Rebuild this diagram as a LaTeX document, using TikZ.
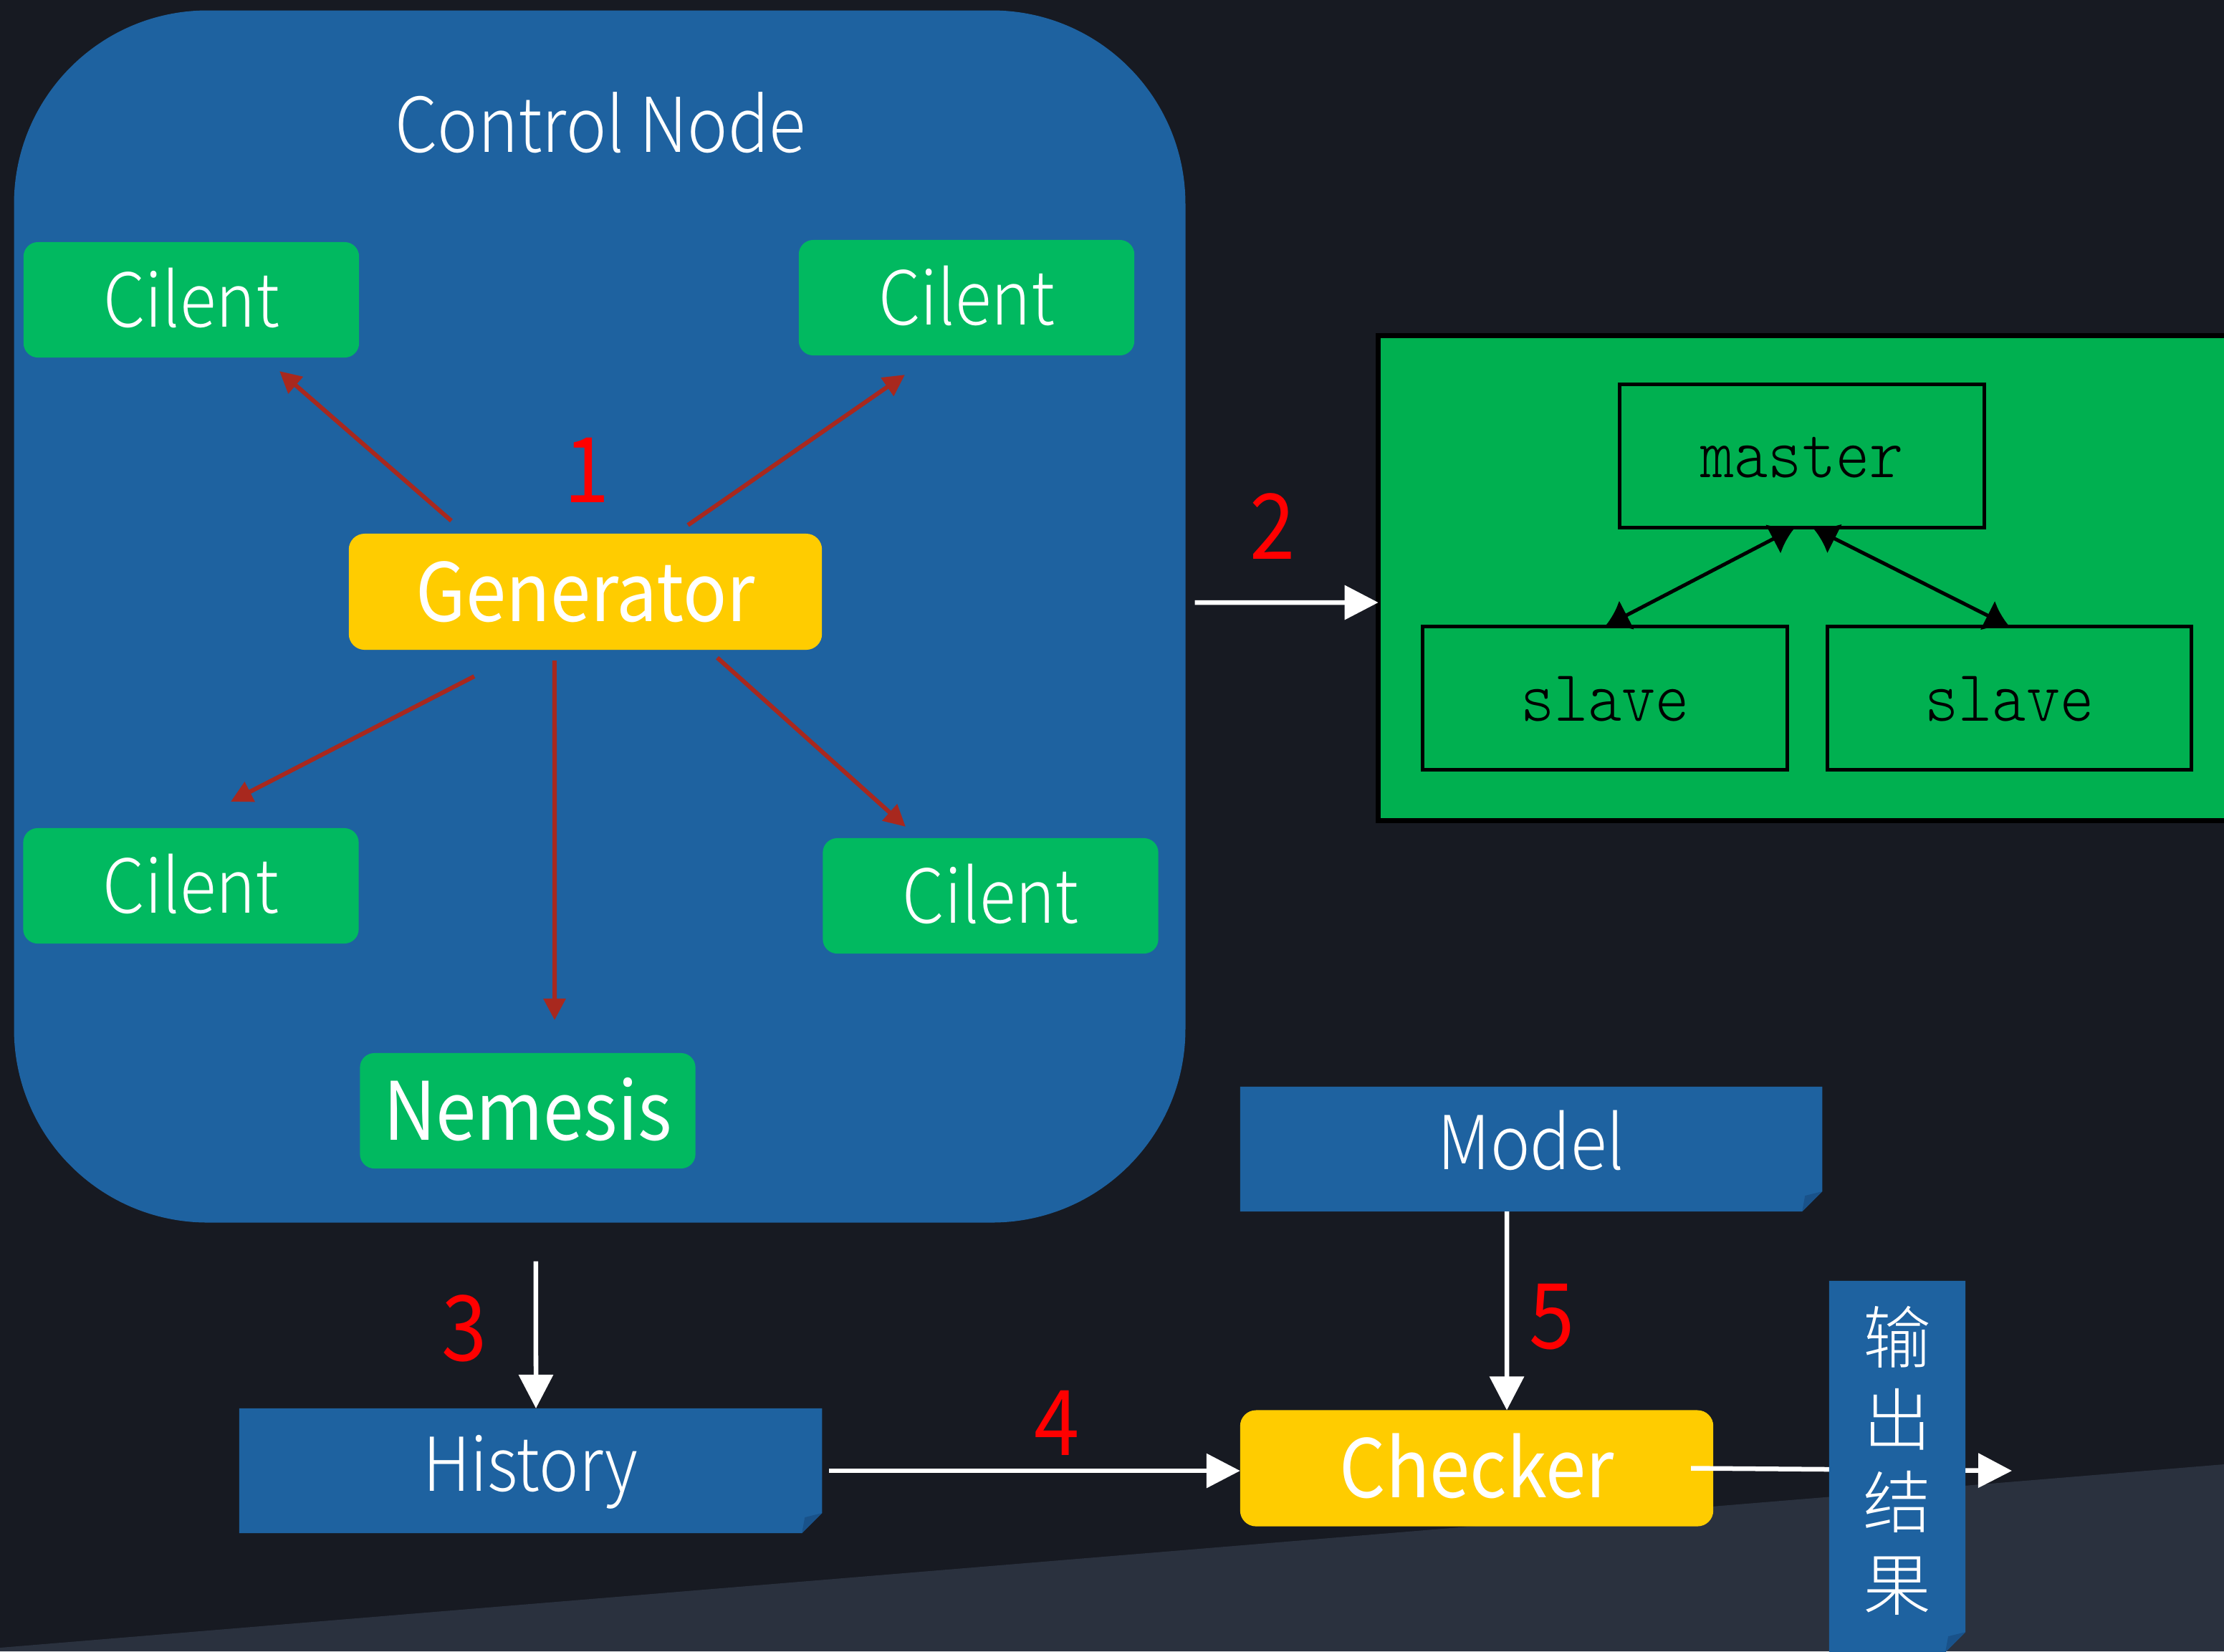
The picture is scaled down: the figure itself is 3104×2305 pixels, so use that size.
\documentclass[tikz,border=0pt]{standalone}
\usepackage{fontspec}
\newfontfamily\sansfam{Noto Sans CJK SC}[UprightFont=* Light,FakeStretch=0.9]
\newfontfamily\sansreg{Noto Sans CJK SC}[FakeStretch=0.9]
\newfontfamily\cjkfam{Noto Sans CJK SC}[UprightFont=* Light]
\newfontfamily\monofam{lmmonolt10-regular.otf}[FakeStretch=0.88]
\usetikzlibrary{arrows.meta}
\definecolor{bgdark}{RGB}{23,26,34}
\definecolor{bglight}{RGB}{42,49,62}
\definecolor{cnblue}{RGB}{30,98,160}
\definecolor{foldblue}{RGB}{25,82,138}
\definecolor{cgreen}{RGB}{1,185,96}
\definecolor{sysgreen}{RGB}{0,176,80}
\definecolor{gold}{RGB}{255,204,0}
\definecolor{redarrow}{RGB}{168,40,30}
\definecolor{numred}{RGB}{255,0,0}
\newcommand\paperfill[1]{%
  \fill[cnblue] (#1.north west) -- (#1.north east) -- ([yshift=0.28cm]#1.south east)
    -- ([xshift=-0.28cm]#1.south east) -- (#1.south west) -- cycle;
  \fill[foldblue] ([yshift=0.28cm]#1.south east) -- ([xshift=-0.28cm]#1.south east)
    -- ([xshift=-0.24cm,yshift=0.22cm]#1.south east) -- cycle;}
\begin{document}
\begin{tikzpicture}[x=0.01cm,y=-0.01cm,
  every node/.style={inner sep=0pt,outer sep=0pt},
  lightfont/.style={font=\sansfam\fontsize{29.5pt}{30pt}\selectfont,text height=21.6pt,text depth=0pt},
  boldfont/.style={font=\sansreg\fontsize{32pt}{32pt}\selectfont,text height=23.5pt,text depth=0pt},
  clientbox/.style={fill=cgreen,rounded corners=0.2cm,minimum width=4.68cm,minimum height=1.61cm,text=white,lightfont},
  genbox/.style={fill=gold,rounded corners=0.22cm,minimum width=6.6cm,minimum height=1.62cm,text=white,boldfont},
  paperbox/.style={minimum width=8.13cm,minimum height=1.74cm},
  papertext/.style={text=white,font=\sansfam\fontsize{29.5pt}{30pt}\selectfont,text height=21.6pt,text depth=0.2cm},
  msbox/.style={draw=black,line width=0.05cm,fill=sysgreen,minimum width=5.08cm,minimum height=2.0cm,text=black,
     font=\monofam\fontsize{29pt}{29pt}\selectfont,text depth=0pt},
  num/.style={text=numred,font=\sansreg\fontsize{36pt}{36pt}\selectfont,text height=26.4pt,text depth=0pt},
  redarr/.style={draw=redarrow,line width=0.06cm,-{Triangle[length=0.3cm,width=0.3cm]}},
  whitearr/.style={draw=white,line width=0.065cm,-{Triangle[length=0.47cm,width=0.47cm]}},
  blackarr/.style={draw=black,line width=0.05cm,{Latex[length=0.34cm,width=0.46cm]}-{Latex[length=0.34cm,width=0.46cm]}}]
\useasboundingbox (0,0) rectangle (3104,2305);
% background
\fill[bgdark] (0,0) rectangle (3104,2305);
\fill[bglight] (0,2300) -- (3104,2044) -- (3104,2305) -- (0,2305) -- cycle;
% control node
\node[fill=cnblue,rounded corners=2.7cm,minimum width=16.34cm,minimum height=16.91cm] (cn) at (837,860.5) {};
\node[text=white,font=\sansfam\fontsize{30pt}{30pt}\selectfont,text height=22pt,text depth=0pt] (cntitle) at (838,174) {Control Node};
\node[clientbox] (cl1) at (267,418.5) {Cilent};
\node[clientbox] (cl2) at (1349,415.5) {Cilent};
\node[clientbox] (cl3) at (266.5,1236.5) {Cilent};
\node[clientbox] (cl4) at (1382.5,1250.5) {Cilent};
\node[genbox] (gen) at (817,826) {Generator};
\node[clientbox,boldfont] (nem) at (736.5,1550.5) {Nemesis};
\draw[redarr] ([xshift=-1.87cm,yshift=0.18cm]gen.north) -- ([xshift=1.23cm,yshift=-0.19cm]cl1.south);
\draw[redarr] ([xshift=1.43cm,yshift=0.12cm]gen.north) -- ([xshift=-0.86cm,yshift=-0.27cm]cl2.south);
\draw[redarr] ([xshift=-1.55cm,yshift=-0.37cm]gen.south) -- ([xshift=0.555cm,yshift=0.37cm]cl3.north);
\draw[redarr] ([xshift=1.84cm,yshift=-0.11cm]gen.south) -- ([xshift=-1.185cm,yshift=0.16cm]cl4.north);
\draw[redarr] ([xshift=-0.43cm,yshift=-0.15cm]gen.south) -- ([xshift=0.375cm,yshift=0.46cm]nem.north);
\node[num] (n1) at (819,655) {1};
% system under test
\node[draw=black,line width=0.07cm,fill=sysgreen,minimum width=11.88cm,minimum height=6.76cm] (sys) at (2518,807) {};
\node[msbox,text height=17pt] (master) at (2515,636.5) {master};
\node[msbox,text height=18pt] (slaveL) at (2240,974.5) {slave};
\node[msbox,text height=18pt] (slaveR) at (2804.5,974.5) {slave};
\draw[blackarr] ([xshift=-0.1cm]master.south) -- (slaveL.north);
\draw[blackarr] ([xshift=0.15cm]master.south) -- (slaveR.north);
\draw[whitearr] ([xshift=0.13cm,yshift=0.195cm]cn.east) -- ([yshift=-0.34cm]sys.west);
\node[num] (n2) at (1776,734) {2};
% history / model / checker
\node[paperbox] (hist) at (740.5,2053) {};
\paperfill{hist}
\node[papertext] (histlabel) at (hist) {History};
\node[paperbox,minimum width=8.12cm] (model) at (2137,1604) {};
\paperfill{model}
\node[papertext] (modellabel) at (model) {Model};
\node[genbox] (chk) at (2061,2049.5) {Checker};
\draw[whitearr] ([xshift=-0.89cm,yshift=-0.54cm]cn.south) -- ([xshift=0.075cm]hist.north);
\node[num] (n3) at (648,1853) {3};
\draw[whitearr] ([xshift=0.1cm]hist.east) -- (hist.east -| chk.west);
\node[num] (n4) at (1475,1985) {4};
\draw[whitearr] ([xshift=-0.34cm]model.south) -- ([xshift=0.42cm]chk.north);
\node[num] (n5) at (2166,1836) {5};
\coordinate (outtip) at (2808,2053);
\draw[whitearr] ([xshift=-0.31cm]chk.east) -- (outtip);
\node[minimum width=1.9cm,minimum height=5.18cm] (out) at (2648,2047) {};
\paperfill{out}
\node[text=white,font=\cjkfam\fontsize{27pt}{32.7pt}\selectfont,align=center] (outlabel) at ([yshift=0.08cm]out) {输\\出\\结\\果};
\end{tikzpicture}
\end{document}
